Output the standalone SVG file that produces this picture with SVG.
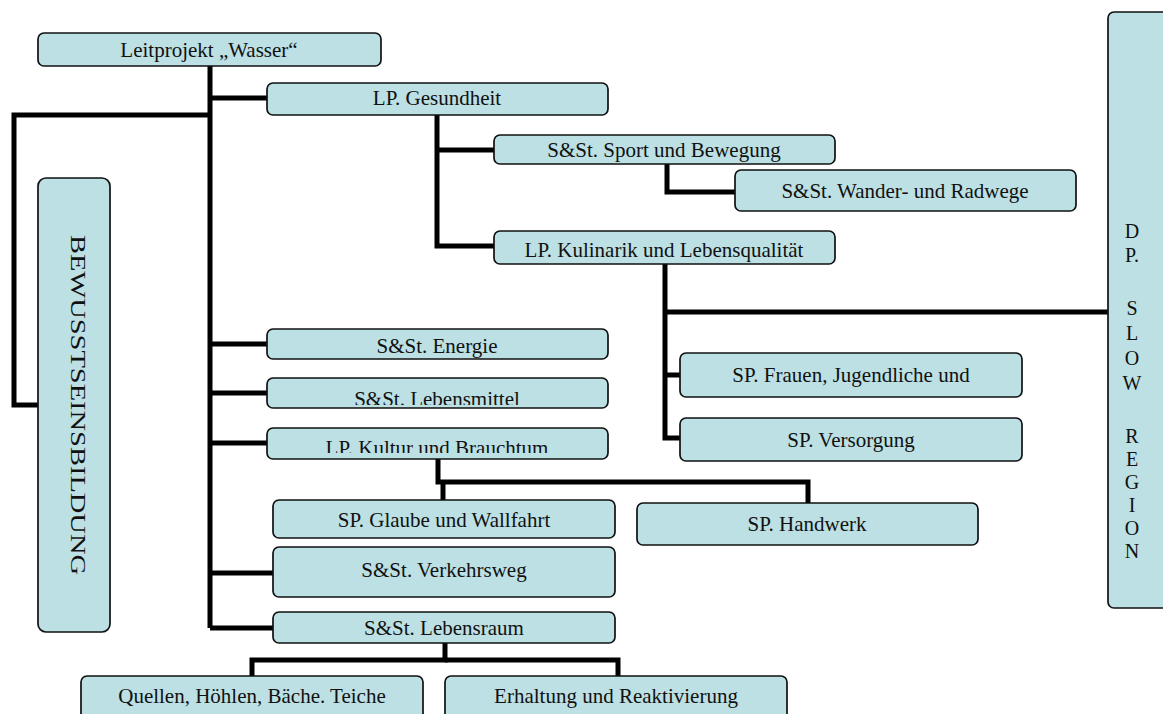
<svg xmlns="http://www.w3.org/2000/svg" width="1163" height="714" viewBox="0 0 1163 714">
<style>
.box{fill:#bce0e3;stroke:#111;stroke-width:1.7}
.t{font-family:"Liberation Serif","Times New Roman",serif;font-size:21px;fill:#111;text-anchor:middle}
.c{fill:none;stroke:#000;stroke-width:5;stroke-linejoin:miter;stroke-linecap:butt}
</style>
<defs>
<clipPath id="clipLm"><rect x="267" y="378" width="341" height="27"/></clipPath>
<clipPath id="clipKu"><rect x="267" y="428" width="341" height="25"/></clipPath>
<clipPath id="clipKl"><rect x="494" y="231" width="341" height="31"/></clipPath>
</defs>
<rect width="1163" height="714" fill="#fff"/>
<g id="connectors" class="c">
<path d="M210 66 V628"/>
<path d="M210 98 H267"/>
<path d="M210 115 H14 V405 H38"/>
<path d="M437 114 V246 H494"/>
<path d="M437 150 H494"/>
<path d="M667 164 V192 H735"/>
<path d="M665 264 V438 H680"/>
<path d="M665 312 H1108"/>
<path d="M665 375 H680"/>
<path d="M210 344 H267"/>
<path d="M210 393 H267"/>
<path d="M210 443 H267"/>
<path d="M210 573 H273"/>
<path d="M210 628 H273"/>
<path d="M438 459 V482 H808 V503"/>
<path d="M443 482 V500"/>
<path d="M445 643 V660 H252 V676"/>
<path d="M445 660 H618 V676"/>
</g>
<g id="n-leitprojekt"><rect class="box" x="38" y="33" width="343" height="33" rx="6"/><text class="t" x="209" y="57">Leitprojekt „Wasser“</text></g>
<g id="n-gesundheit"><rect class="box" x="267" y="83" width="341" height="32" rx="6"/><text class="t" x="437" y="105">LP. Gesundheit</text></g>
<g id="n-sport"><rect class="box" x="494" y="135" width="341" height="29" rx="6"/><text class="t" x="664" y="157">S&amp;St. Sport und Bewegung</text></g>
<g id="n-wander"><rect class="box" x="735" y="170" width="341" height="41" rx="6"/><text class="t" x="905" y="198">S&amp;St. Wander- und Radwege</text></g>
<g id="n-kulinarik"><rect class="box" x="494" y="231" width="341" height="33" rx="6"/><text class="t" x="664" y="257" clip-path="url(#clipKl)">LP. Kulinarik und Lebensqualität</text></g>
<g id="n-slowregion"><rect class="box" x="1108" y="12" width="80" height="596" rx="6"/>
<text class="t" style="font-size:20px" x="1132">
<tspan x="1132" y="238">D</tspan><tspan x="1132" y="262">P.</tspan><tspan x="1132" y="315">S</tspan><tspan x="1132" y="340">L</tspan><tspan x="1132" y="365">O</tspan><tspan x="1132" y="390">W</tspan><tspan x="1132" y="443">R</tspan><tspan x="1132" y="466">E</tspan><tspan x="1132" y="489">G</tspan><tspan x="1132" y="512">I</tspan><tspan x="1132" y="535">O</tspan><tspan x="1132" y="558">N</tspan>
</text></g>
<g id="n-bewusstsein"><rect class="box" x="38" y="178" width="72" height="454" rx="8"/><text class="t" style="font-size:22px" transform="translate(71 405) rotate(90)" textLength="340" lengthAdjust="spacingAndGlyphs">BEWUSSTSEINSBILDUNG</text></g>
<g id="n-energie"><rect class="box" x="267" y="329" width="341" height="30" rx="6"/><text class="t" x="437" y="353">S&amp;St. Energie</text></g>
<g id="n-lebensmittel"><rect class="box" x="267" y="378" width="341" height="30" rx="6"/><text class="t" x="437" y="406" clip-path="url(#clipLm)">S&amp;St. Lebensmittel</text></g>
<g id="n-kultur"><rect class="box" x="267" y="428" width="341" height="31" rx="6"/><text class="t" x="437" y="455" clip-path="url(#clipKu)">LP. Kultur und Brauchtum</text></g>
<g id="n-frauen"><rect class="box" x="680" y="353" width="342" height="44" rx="6"/><text class="t" x="851" y="382">SP. Frauen, Jugendliche und</text></g>
<g id="n-versorgung"><rect class="box" x="680" y="418" width="342" height="43" rx="6"/><text class="t" x="851" y="447">SP. Versorgung</text></g>
<g id="n-glaube"><rect class="box" x="273" y="500" width="342" height="38" rx="6"/><text class="t" x="444" y="527">SP. Glaube und Wallfahrt</text></g>
<g id="n-handwerk"><rect class="box" x="637" y="503" width="341" height="42" rx="6"/><text class="t" x="807" y="531">SP. Handwerk</text></g>
<g id="n-verkehrsweg"><rect class="box" x="273" y="547" width="342" height="50" rx="6"/><text class="t" x="444" y="577">S&amp;St. Verkehrsweg</text></g>
<g id="n-lebensraum"><rect class="box" x="273" y="612" width="342" height="31" rx="6"/><text class="t" x="444" y="635">S&amp;St. Lebensraum</text></g>
<g id="n-quellen"><rect class="box" x="81" y="676" width="342" height="50" rx="6"/><text class="t" x="252" y="703">Quellen, Höhlen, Bäche. Teiche</text></g>
<g id="n-erhaltung"><rect class="box" x="445" y="676" width="342" height="50" rx="6"/><text class="t" x="616" y="703">Erhaltung und Reaktivierung</text></g>
</svg>
